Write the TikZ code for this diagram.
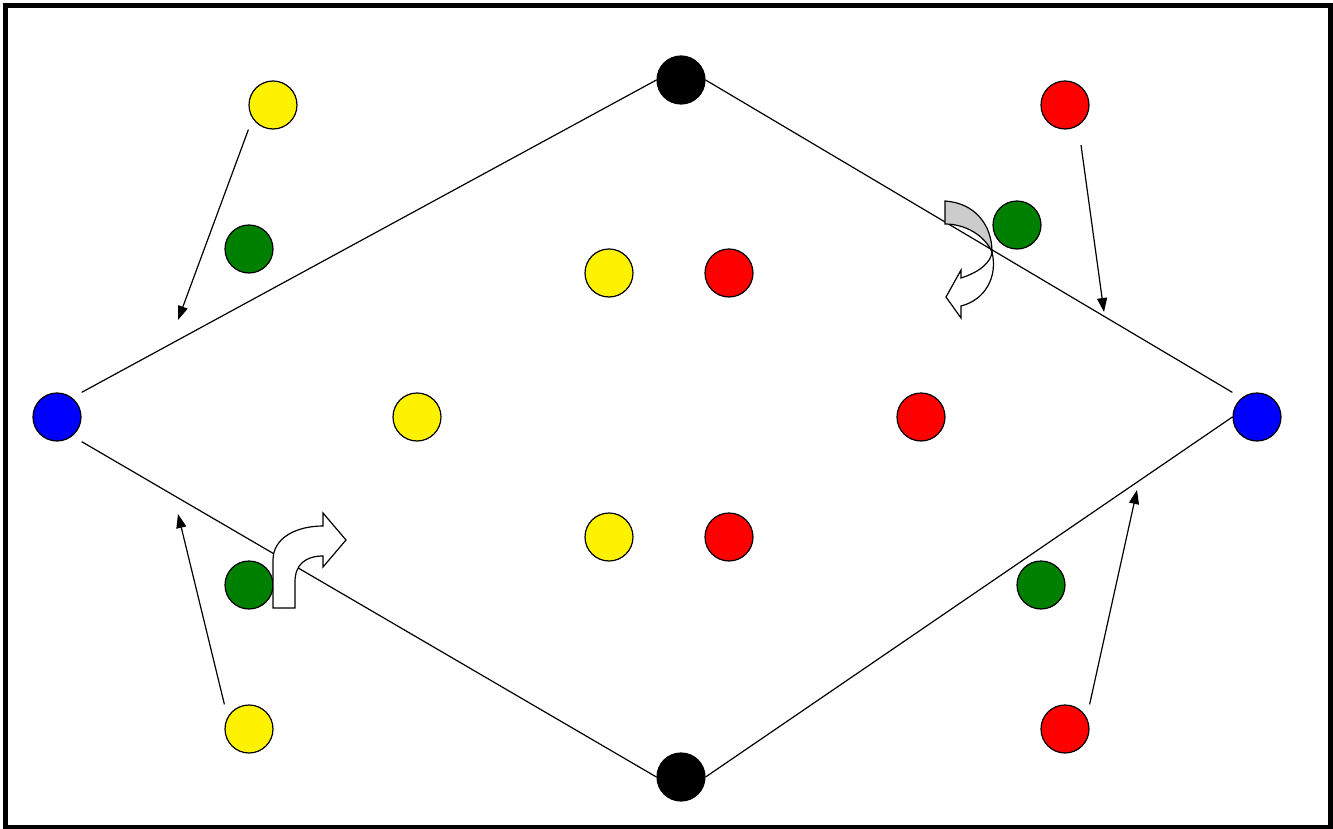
\documentclass[tikz,border=0pt]{standalone}
\usetikzlibrary{arrows.meta}
\tikzset{
  player/.style={circle, draw, line width=1.2pt, minimum size=48pt, inner sep=0pt},
  run/.style={line width=1.2pt, -{Triangle[length=14pt,width=10pt]}},
  side/.style={line width=1.2pt}
}

\begin{document}
\begin{tikzpicture}[x=1pt, y=-1pt]
    % Rahmen
    \useasboundingbox (0,0) rectangle (1333,829);
    \draw[line width=5pt] (5.5,6) rectangle (1330.5,827.5);

    % Ecken der Raute
    \node[player, fill=black] (top) at (681,80) {};
    \node[player, fill=black] (bot) at (681,777) {};
    \node[player, fill=blue] (left) at (57,417) {};
    \node[player, fill=blue] (right) at (1257,417) {};

    % Seiten der Raute
    \draw[side] (left.east |- left.north) -- (top.west);
    \draw[side] (top.east) -- (right.west |- right.north);
    \draw[side] (right.west) -- (bot.east);
    \draw[side] (left.east |- left.south) -- (bot.west);

    % gelbe Spieler
    \node[player, fill=yellow] (y1) at (273,105) {};
    \node[player, fill=yellow] (y2) at (609,273) {};
    \node[player, fill=yellow] (y3) at (417,417) {};
    \node[player, fill=yellow] (y4) at (609,537) {};
    \node[player, fill=yellow] (y5) at (249,729) {};

    % rote Spieler
    \node[player, fill=red] (r1) at (1065,105) {};
    \node[player, fill=red] (r2) at (729,273) {};
    \node[player, fill=red] (r3) at (921,417) {};
    \node[player, fill=red] (r4) at (729,537) {};
    \node[player, fill=red] (r5) at (1065,729) {};

    % gruene Spieler
    \node[player, fill=green!50!black] (g1) at (249,249) {};
    \node[player, fill=green!50!black] (g2) at (1017,225) {};
    \node[player, fill=green!50!black] (g3) at (249,585) {};
    \node[player, fill=green!50!black] (g4) at (1041,585) {};

    % Laufwege
    \coordinate (e1) at (178,320);
    \coordinate (s2) at (1081,145);
    \coordinate (e2) at (1104,312);
    \coordinate (e3) at (178,514);
    \coordinate (e4) at (1137,490);
    \draw[run] (y1.west |- y1.south) -- (e1);
    \draw[run] (s2) -- (e2);
    \draw[run] (y5.west |- y5.north) -- (e3);
    \draw[run] (r5.east |- r5.north) -- (e4);

    % Abbiegepfeil unten links
    \draw[line width=1.2pt, fill=white] (273,608) -- (273,560)
        .. controls (273,538) and (296,526) .. (323,526) -- (323,513)
        -- (346,540) -- (323,567) -- (323,556)
        .. controls (306,556) and (295,564) .. (295,582) -- (295,608) -- cycle;

    % Drehpfeil oben rechts
    \draw[line width=1.2pt, fill=gray!40] (945,201)
        .. controls (975,203) and (992,225) .. (992,252)
        .. controls (985,236) and (966,224) .. (945,224) -- cycle;
    \draw[line width=1.2pt, fill=white] (992,252)
        .. controls (998,277) and (985,300) .. (961,306) -- (961,318)
        -- (946,297) -- (961,270) -- (961,278)
        .. controls (980,272) and (991,262) .. (992,252) -- cycle;
\end{tikzpicture}
\end{document}
